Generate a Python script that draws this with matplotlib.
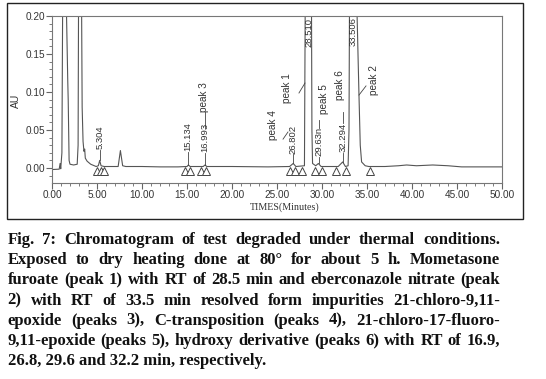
import matplotlib.pyplot as plt
from matplotlib.patches import Rectangle
from matplotlib.ticker import MultipleLocator, FormatStrFormatter

# chromatogram trace (minutes, AU); the big peaks run off the top
trace_min = [0.0, 0.8, 0.9, 0.97, 1.1, 1.35, 1.6, 1.75, 1.8, 1.9, 2.0, 2.4, 2.8,
             2.9, 3.05, 3.2, 3.35, 3.45, 3.55, 3.63, 3.7, 3.9, 4.3, 4.9, 5.15,
             5.3, 5.45, 5.8, 7.35, 7.6, 7.85, 8.2, 10.0, 12.0, 14.0, 15.0, 15.15,
             15.35, 16.8, 17.0, 17.2, 20.0, 24.0, 26.4, 26.8, 27.1, 28.05, 28.25,
             28.5, 28.75, 28.88, 28.95, 29.3, 29.6, 29.9, 31.8, 32.3, 32.6, 32.9,
             33.0, 33.15, 33.5, 33.8, 34.1, 34.25, 34.4, 34.8, 35.2, 37.0, 38.5,
             39.4, 40.5, 42.3, 44.0, 45.5, 50.0]
trace_au = [-0.002, -0.0015, 0.006, -0.001, 0.02, 0.6, 0.21, 0.115, 0.09, 0.01,
            0.005, 0.004, 0.005, 0.03, 0.6, 0.4, 0.08, 0.035, 0.022, 0.025, 0.013,
            0.009, 0.005, 0.002, 0.003, 0.010, 0.003, 0.002, 0.002, 0.023, 0.003,
            0.002, 0.002, 0.0015, 0.0015, 0.002, 0.004, 0.002, 0.002, 0.004, 0.002,
            0.002, 0.0015, 0.002, 0.006, 0.002, 0.003, 0.5, 0.9, 0.5, 0.05, 0.006,
            0.003, 0.006, 0.002, 0.002, 0.008, 0.002, 0.003, 0.05, 0.5, 0.9, 0.25,
            0.1, 0.03, 0.008, 0.003, 0.002, 0.002, 0.003, 0.004, 0.003, 0.004,
            0.003, 0.0015, 0.0015]

# small integrated peaks (label, retention time, apex height)
rt_values = [5.304, 15.134, 16.993, 26.802, 29.630, 32.294]
rt_labels = ['5.304', '15.134', '16.993', '26.802', '29.63n', '32.294']
rt_apex = [0.010, 0.004, 0.004, 0.006, 0.006, 0.008]
rt_label_base = [0.024, 0.021, 0.020, 0.018, 0.0145, 0.020]

# main peaks, labelled at the top
main_rt = [28.510, 33.506]
main_labels = ['28.510', '33.506']

# integration start/end markers
marker_min = [5.0, 5.45, 5.75, 14.8, 15.35, 16.5, 17.1, 26.45, 27.0, 27.75,
              29.2, 29.95, 31.6, 32.65, 35.33]

caption_lines = [
    'Fig. 7: Chromatogram of test degraded under thermal conditions.',
    'Exposed to dry heating done at 80\u00b0 for about 5 h. Mometasone',
    'furoate (peak 1) with RT of 28.5 min and eberconazole nitrate (peak',
    '2) with RT of 33.5 min resolved form impurities 21-chloro-9,11-',
    'epoxide (peaks 3), C-transposition (peaks 4), 21-chloro-17-fluoro-',
    '9,11-epoxide (peaks 5), hydroxy derivative (peaks 6) with RT of 16.9,',
    '26.8, 29.6 and 32.2 min, respectively.',
]

W, H = 546, 379
fig = plt.figure(figsize=(W / 100, H / 100), dpi=100)
fig.patches.append(Rectangle((7 / W, 1 - 219 / H), 516 / W, 216 / H,
                             transform=fig.transFigure, fill=False,
                             edgecolor='#222222', linewidth=1.0))

ax = fig.add_axes([52 / W, 1 - 183 / H, 450 / W, 167 / H])
ax.plot(trace_min, trace_au, color='#555555', linewidth=0.8)
ax.plot(marker_min, [-0.0035] * len(marker_min), linestyle='none', marker='^',
        markersize=5.5, markerfacecolor='white', markeredgecolor='#444444',
        markeredgewidth=0.7)

ax.set_xlim(0, 50)
ax.set_ylim(-0.0197, 0.2)

lab = dict(rotation=90, ha='center', fontsize=6.8, color='#333333',
           family='Liberation Sans')
name = dict(rotation=90, ha='center', va='bottom', fontsize=7.2,
            color='#333333', family='Liberation Sans')
lc = dict(color='#444444', linewidth=0.6)

for t, s, a, b in zip(rt_values, rt_labels, rt_apex, rt_label_base):
    ax.plot([t, t], [a, b], **lc)
    ax.text(t, b + 0.001, s, va='bottom', **lab)
for t, s in zip(main_rt, main_labels):
    ax.text(t, 0.198, s, va='top', **lab)

# peak names and their leaders
ax.text(16.85, 0.074, 'peak 3', **name)
ax.plot([16.99, 16.99], [0.052, 0.0737], **lc)
ax.text(24.55, 0.037, 'peak 4', **name)
ax.plot([25.67, 26.22], [0.038, 0.0474], **lc)
ax.text(26.1, 0.086, 'peak 1', **name)
ax.plot([27.44, 28.11], [0.0987, 0.1118], **lc)
ax.text(30.2, 0.071, 'peak 5', **name)
ax.plot([29.67, 29.67], [0.0526, 0.063], **lc)
ax.text(32.0, 0.090, 'peak 6', **name)
ax.plot([32.29, 32.29], [0.059, 0.074], **lc)
ax.text(35.8, 0.096, 'peak 2', **name)
ax.plot([34.11, 34.89], [0.096, 0.108], **lc)

ax.xaxis.set_major_locator(MultipleLocator(5))
ax.xaxis.set_minor_locator(MultipleLocator(1))
ax.yaxis.set_major_locator(MultipleLocator(0.05))
ax.yaxis.set_minor_locator(MultipleLocator(0.01))
ax.xaxis.set_major_formatter(FormatStrFormatter('%.2f'))
ax.yaxis.set_major_formatter(FormatStrFormatter('%.2f'))
ax.tick_params(which='major', direction='out', length=4, width=0.8,
               color='#666666', labelsize=7.2, labelcolor='#333333', pad=1)
ax.tick_params(which='minor', direction='out', length=2, width=0.6,
               color='#666666')
for lbl in ax.get_xticklabels() + ax.get_yticklabels():
    lbl.set_family('Liberation Sans')
for sp in ax.spines.values():
    sp.set_color('#777777')
    sp.set_linewidth(0.8)

ax.set_xlabel('TIMES(Minutes)', family='Liberation Serif', fontsize=7.2,
              color='#333333')
ax.xaxis.set_label_coords(0.517, -0.115)
ax.set_ylabel('AU', family='Liberation Sans', fontsize=7.5, color='#333333')
ax.yaxis.set_label_coords(-0.07, 0.49)

# justified caption under the chart
cap = dict(family='Liberation Serif', fontweight='bold', fontsize=12,
           color='#111111', va='baseline')
fig.canvas.draw()
r = fig.canvas.get_renderer()
left, right = 7.5 / W, 500 / W
for i, line in enumerate(caption_lines):
    yb = 1 - (244 + i * 20.2) / H
    if i == len(caption_lines) - 1:
        fig.text(left, yb, line, **cap)
        continue
    words = line.split(' ')
    texts = [fig.text(0, yb, w, **cap) for w in words]
    widths = [t.get_window_extent(r).width / fig.bbox.width for t in texts]
    gap = (right - left - sum(widths)) / (len(words) - 1)
    x = left
    for t, w in zip(texts, widths):
        t.set_x(x)
        x += w + gap

fig.savefig('out.png', dpi=100)
